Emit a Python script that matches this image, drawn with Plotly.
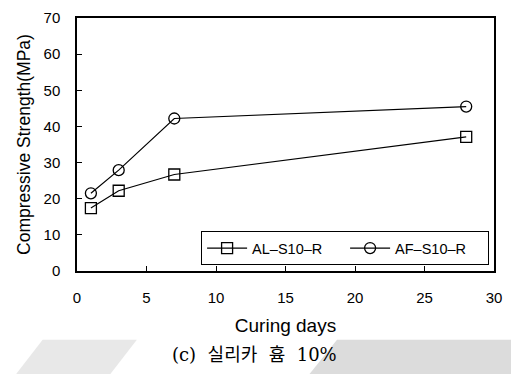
import plotly.graph_objects as go

# Compressive strength development, silica fume 10%
days = [1, 3, 7, 28]
al_s10_r = [17.4, 22.2, 26.7, 37.1]
af_s10_r = [21.5, 27.9, 42.2, 45.5]

x_ticks = [0, 5, 10, 15, 20, 25, 30]
y_ticks = [0, 10, 20, 30, 40, 50, 60, 70]

W, H = 511, 374
L, R, T, B = 77, 9, 13, 103
PW, PH = W - L - R, H - T - B


def px(x):
    return (x - L) / PW


def py(y):
    return (H - B - y) / PH


fig = go.Figure()
fig.add_trace(go.Scatter(
    x=days, y=al_s10_r, name="AL\u2013S10\u2013R", mode="lines+markers",
    line=dict(color="black", width=1.2),
    marker=dict(symbol="square-open", size=11, color="black", line=dict(width=1.3)),
))
fig.add_trace(go.Scatter(
    x=days, y=af_s10_r, name="AF\u2013S10\u2013R", mode="lines+markers",
    line=dict(color="black", width=1.2),
    marker=dict(symbol="circle-open", size=11, color="black", line=dict(width=1.3)),
))

axis_common = dict(
    showgrid=False, zeroline=False, showline=True, linecolor="black", linewidth=1.5,
    mirror=True, ticks="inside", ticklen=5, tickcolor="black", tickwidth=1,
    tickfont=dict(family="Liberation Sans, Arial", size=15, color="black"),
)
fig.update_xaxes(range=[0, 30], tickvals=x_ticks, ticklabelstandoff=12, **axis_common,
                 title=dict(text="Curing days", standoff=14,
                            font=dict(family="Liberation Sans, Arial", size=19, color="black")))
fig.update_yaxes(range=[0, 70], tickvals=y_ticks, ticklabelstandoff=12, **axis_common,
                 title=dict(text="Compressive Strength(MPa)", standoff=8,
                            font=dict(family="Liberation Sans, Arial", size=17.5, color="black")))

# Decorative grey bands behind the caption
shapes = [
    dict(type="path", xref="paper", yref="paper", layer="below", line=dict(width=0),
         fillcolor="rgb(232,232,232)",
         path=f"M {px(42)} {py(341)} L {px(138)} {py(341)} L {px(111)} {py(376)} L {px(15)} {py(376)} Z"),
    dict(type="path", xref="paper", yref="paper", layer="below", line=dict(width=0),
         fillcolor="rgb(220,220,220)",
         path=f"M {px(342)} {py(341)} L {px(520)} {py(341)} L {px(520)} {py(376)} L {px(314)} {py(376)} Z"),
]

fig.update_layout(
    width=W, height=H, margin=dict(l=L, r=R, t=T, b=B),
    paper_bgcolor="white", plot_bgcolor="white",
    showlegend=True, shapes=shapes,
    legend=dict(orientation="h", x=px(497), xanchor="right", y=py(265), yanchor="bottom",
                bordercolor="black", borderwidth=1, bgcolor="white",
                font=dict(family="Liberation Sans, Arial", size=14.5, color="black"),
                entrywidth=88, entrywidthmode="pixels", itemwidth=40, tracegroupgap=0),
    annotations=[dict(text="(c)  실리카  흄  10%", xref="paper", yref="paper",
                      x=px(258), y=py(356), xanchor="center", yanchor="middle", showarrow=False,
                      font=dict(family="DejaVu Serif, Noto Sans CJK KR", size=18, color="black"))],
)

fig.write_html("out.html")
